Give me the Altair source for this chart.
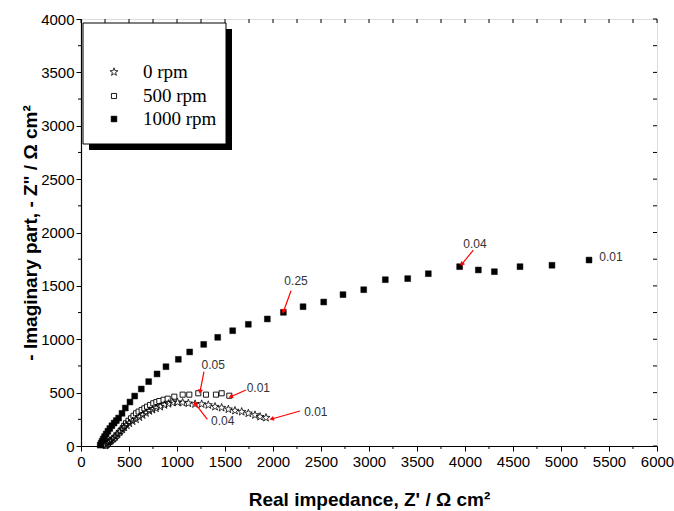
import math
import altair as alt
import pandas as pd

# ---------------- data ----------------
series_names = ["0 rpm", "500 rpm", "1000 rpm"]

x_0rpm = [255, 270, 285, 300, 312, 335, 357, 380, 406, 430, 451, 477, 503, 538, 573,
          608, 642, 677, 712, 745, 781, 825, 868, 912, 955, 1005, 1059, 1118, 1188,
          1257, 1326, 1396, 1465, 1535, 1604, 1674, 1743, 1812, 1865, 1927]
y_0rpm = [5, 18, 32, 42, 50, 68, 87, 110, 134, 155, 175, 194, 213, 232, 250,
          270, 290, 309, 328, 340, 353, 368, 384, 395, 406, 410, 406, 400, 393,
          393, 384, 368, 359, 344, 331, 321, 306, 290, 274, 265]

x_500rpm = [262, 280, 295, 320, 347, 370, 392, 412, 434, 450, 469, 495, 521, 547, 573,
            600, 632, 660, 688, 720, 753, 785, 816, 860, 903, 972, 1059, 1128, 1222,
            1302, 1406, 1465, 1545]
y_500rpm = [5, 22, 40, 56, 72, 96, 119, 142, 166, 190, 213, 236, 259, 283, 306,
            322, 337, 353, 368, 384, 400, 411, 421, 433, 443, 462, 481, 481, 494,
            481, 481, 494, 471]

x_1000rpm = [200, 210, 220, 232, 246, 262, 280, 300, 322, 345, 368, 392, 427, 462, 510,
             559, 628, 705, 792, 885, 1014, 1132, 1278, 1424, 1580, 1743, 1941, 2108,
             2313, 2528, 2729, 2945, 3170, 3403, 3618, 3944, 4139, 4306, 4573, 4906, 5292]
y_1000rpm = [8, 25, 45, 66, 88, 112, 138, 164, 190, 215, 238, 262, 306, 356, 412,
             468, 534, 603, 675, 743, 812, 881, 952, 1018, 1080, 1140, 1190, 1252,
             1305, 1349, 1418, 1464, 1558, 1568, 1614, 1680, 1649, 1633, 1680, 1693, 1742]

# frequency annotations (Hz)
ann_labels = ["0.01", "0.04", "0.25", "0.05", "0.01", "0.04", "0.01"]
ann_x = [5521, 4104, 2240, 1378, 1847, 1476, 2446]
ann_y = [1768, 1892, 1541, 759, 546, 231, 321]

arrow_x1 = [4087, 2188, 1281, 1719, 1316, 2281]
arrow_y1 = [1836, 1455, 696, 525, 250, 328]
arrow_x2 = [3966, 2108, 1240, 1559, 1188, 1986]
arrow_y2 = [1702, 1258, 509, 462, 400, 253]

x_ticks = [0, 500, 1000, 1500, 2000, 2500, 3000, 3500, 4000, 4500, 5000, 5500, 6000]
y_ticks = [0, 500, 1000, 1500, 2000, 2500, 3000, 3500, 4000]

# ---------------- styling ----------------
W, H = 576, 427
X_DOM = [0, 6000]
Y_DOM = [0, 4000]
SANS = "Liberation Sans"
SERIF = "Liberation Serif"
STAR = ("M0,-1 L0.235,-0.324 L0.951,-0.309 L0.38,0.124 L0.588,0.809 L0,0.4 "
        "L-0.588,0.809 L-0.38,0.124 L-0.951,-0.309 L-0.235,-0.324 Z")

xs = alt.Scale(domain=X_DOM, nice=False, zero=False)
ys = alt.Scale(domain=Y_DOM, nice=False, zero=False)

common_axis = dict(grid=False, format="d", labelFont=SANS, labelFontSize=15,
                   labelColor="black", titleFont=SANS, titleFontSize=19,
                   titleFontWeight="bold", titleColor="black", domainColor="black",
                   tickColor="black", domainWidth=1.2, tickWidth=1, tickSize=5,
                   labelFlush=False, labelOverlap=False)
x_axis = alt.Axis(values=x_ticks, title="Real impedance, Z' / \u03a9 cm\u00b2",
                  labelPadding=3, titlePadding=21, **common_axis)
y_axis = alt.Axis(values=y_ticks, title="- Imaginary part, - Z\" / \u03a9 cm\u00b2",
                  labelPadding=2, titlePadding=0, **common_axis)

X = lambda f: alt.X(f, scale=xs, axis=x_axis)
Y = lambda f: alt.Y(f, scale=ys, axis=y_axis)

def pts(xv, yv, shape, size, fill, sw):
    df = pd.DataFrame({"x": xv, "y": yv})
    return alt.Chart(df).mark_point(shape=shape, size=size, filled=True, fill=fill,
                                    stroke="black", strokeWidth=sw, opacity=1).encode(
        x=X("x:Q"), y=Y("y:Q"))

stars = pts(x_0rpm, y_0rpm, STAR, 70, "transparent", 0.8)
sq500 = pts(x_500rpm, y_500rpm, "square", 26, "white", 0.9)
sq1000 = pts(x_1000rpm, y_1000rpm, "square", 34, "black", 0.5)

# minor / frame ticks
x_minor = [(a + b) / 2 for a, b in zip(x_ticks[:-1], x_ticks[1:])]
y_minor = [(a + b) / 2 for a, b in zip(y_ticks[:-1], y_ticks[1:])]
x_all = sorted(x_ticks + x_minor)
y_all = sorted(y_ticks + y_minor)

def xrule(vals, y1, y2):
    return alt.Chart(pd.DataFrame({"x": vals})).mark_rule(color="black", strokeWidth=1).encode(
        x=X("x:Q"), y=alt.value(y1), y2=alt.value(y2))

def yrule(vals, x1, x2):
    return alt.Chart(pd.DataFrame({"y": vals})).mark_rule(color="black", strokeWidth=1).encode(
        y=Y("y:Q"), x=alt.value(x1), x2=alt.value(x2))

ticks = [
    xrule(x_minor, H, H + 3),
    xrule(x_all, 0, 4),
    yrule(y_minor, 0, -3),
    yrule(y_all, W, W - 4),
]

# annotations
ann_df = pd.DataFrame({"label": ann_labels, "x": ann_x, "y": ann_y})
ann_text = alt.Chart(ann_df).mark_text(font=SANS, fontSize=12, color="#333333",
                                       align="center", baseline="middle").encode(
    x=X("x:Q"), y=Y("y:Q"), text="label:N")

kx = W / (X_DOM[1] - X_DOM[0])
ky = H / (Y_DOM[1] - Y_DOM[0])
angles = []
for a, b, c, d in zip(arrow_x1, arrow_y1, arrow_x2, arrow_y2):
    dx = (c - a) * kx
    dy = -(d - b) * ky
    angles.append(math.degrees(math.atan2(dx, -dy)) % 360)
arr_df = pd.DataFrame({"x": arrow_x1, "y": arrow_y1, "x2": arrow_x2, "y2": arrow_y2,
                       "angle": angles})
arr_lines = alt.Chart(arr_df).mark_rule(color="#ff0000", strokeWidth=1.2).encode(
    x=X("x:Q"), y=Y("y:Q"), x2="x2:Q", y2="y2:Q")
arr_heads = alt.Chart(arr_df).mark_point(shape="triangle-up", filled=True, color="#ff0000",
                                         size=26, opacity=1).encode(
    x=X("x2:Q"), y=Y("y2:Q"), angle=alt.Angle("angle:Q", scale=None))

# legend (drawn by hand to get the shadowed box)
LX0, LY0, LX1, LY1 = 2, 4, 145, 125
SH = 6
leg_df = pd.DataFrame({"n": [0]})
shadow = alt.Chart(leg_df).mark_rect(color="black").encode(
    x=alt.value(LX0 + SH), x2=alt.value(LX1 + SH), y=alt.value(LY0 + SH), y2=alt.value(LY1 + SH))
box = alt.Chart(leg_df).mark_rect(fill="white", stroke="black", strokeWidth=1).encode(
    x=alt.value(LX0), x2=alt.value(LX1), y=alt.value(LY0), y2=alt.value(LY1))

row_y = [53, 77, 100]
sym_x = 33
leg_layers = []
leg_styles = [(STAR, 70, "transparent", 0.8), ("square", 26, "white", 0.9), ("square", 34, "black", 0.5)]
for name, ry, (shp, sz, fl, sw) in zip(series_names, row_y, leg_styles):
    d = pd.DataFrame({"label": [name]})
    leg_layers.append(alt.Chart(d).mark_point(shape=shp, size=sz, filled=True, fill=fl,
                                              stroke="black", strokeWidth=sw, opacity=1).encode(
        x=alt.value(sym_x), y=alt.value(ry)))
    leg_layers.append(alt.Chart(d).mark_text(font=SERIF, fontSize=19, color="black",
                                             align="left", baseline="middle").encode(
        x=alt.value(62), y=alt.value(ry), text="label:N"))

chart = alt.layer(
    sq1000, *ticks, sq500, stars, arr_lines, arr_heads, ann_text, shadow, box, *leg_layers
).properties(
    width=W, height=H,
    autosize=alt.AutoSizeParams(type="none"),
    padding={"left": 81, "top": 19, "right": 17, "bottom": 65},
).configure_view(
    stroke="black", strokeWidth=1.2
).configure(background="white")

chart.save("out.html", embed_options={"renderer": "svg", "actions": False})
